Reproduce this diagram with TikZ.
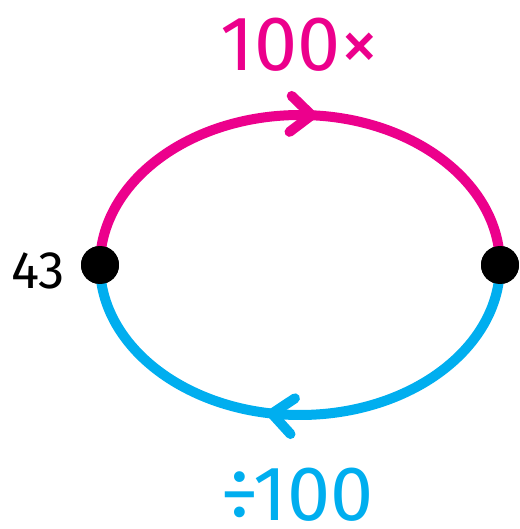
\documentclass[tikz,border=0pt]{standalone}
\usepackage{fontspec}
\setmainfont{Fira Sans}
\usepackage{tikz}
\usetikzlibrary{arrows.meta}
\usetikzlibrary{decorations.markings}
\definecolor{pinkline}{RGB}{236,0,140}
\definecolor{blueline}{RGB}{0,174,239}

\begin{document}
\begin{tikzpicture}[x=0.02cm, y=0.02cm,
    dot/.style={circle, fill=black, inner sep=0pt, minimum size=0.76cm},
    loopline/.style={line width=0.2cm, line cap=round},
    midarrow/.style={postaction={decorate, decoration={markings,
        mark=at position #1 with {\arrow{Straight Barb[length=0.42cm, width=0.72cm, round]}}}}},
    label/.style={font=\fontsize{44}{44}\selectfont, inner sep=0pt, text depth=0pt}]
    \useasboundingbox (0,0) rectangle (520,529);

    % Points
    \node[dot] (left) at (100,264) {};
    \node[dot] (right) at (500,264) {};

    % Arcs
    \draw[loopline, pinkline, midarrow=0.53] (left.center) arc[start angle=180, end angle=0, x radius=200, y radius=150];
    \draw[loopline, blueline, midarrow=0.56] (right.center) arc[start angle=0, end angle=-180, x radius=200, y radius=150];

    % redraw points on top
    \node[dot] at (left) {};
    \node[dot] at (right) {};

    % Labels
    \node[label, pinkline] (times) at (300,485) {100×};
    \node[label, blueline, anchor=base] (divide) at (297,9) {÷100};
    \node[font=\fontsize{30}{30}\selectfont, inner sep=0pt] (start) at (38,258) {43};
\end{tikzpicture}
\end{document}
